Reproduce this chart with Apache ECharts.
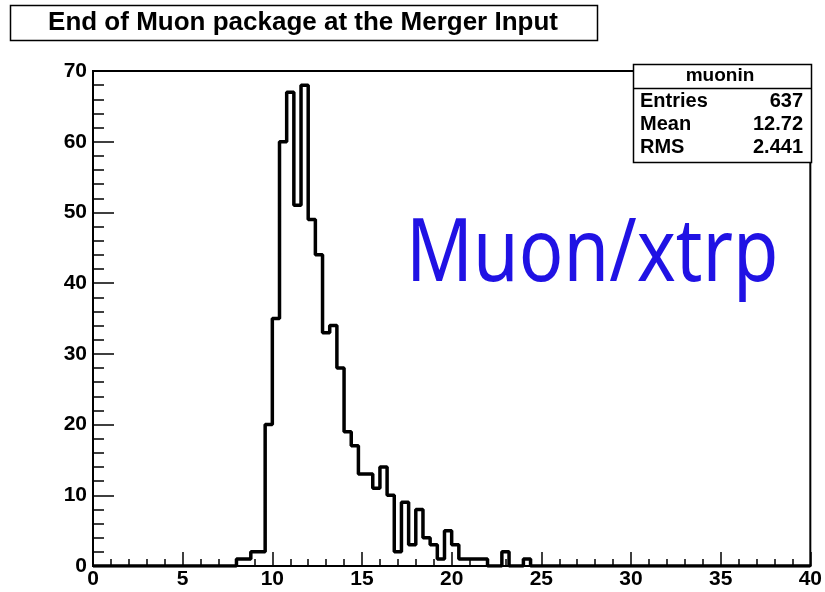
<!DOCTYPE html>
<html lang="en">
  <head>
    <meta charset="UTF-8" />
    <title>End of Muon package at the Merger Input</title>
    <script src="https://cdn.jsdelivr.net/npm/echarts@6/dist/echarts.min.js"></script>
    <style>
      html, body { margin: 0; padding: 0; background: #fff; }
      #main { width: 825px; height: 592px; }
    </style>
  </head>
  <body>
    <div id="main"></div>

    <script>
      // histogram binning (100 bins from 0 to 40)
      const binLow = 0;
      const binWidth = 0.4;
      // counts per bin
      const counts = [
        0, 0, 0, 0, 0, 0, 0, 0, 0, 0,
        0, 0, 0, 0, 0, 0, 0, 0, 0, 0,
        1, 1, 2, 2, 20, 35, 60, 67, 51, 68,
        49, 44, 33, 34, 28, 19, 17, 13, 13, 11,
        14, 10, 2, 9, 3, 8, 4, 3, 1, 5,
        3, 1, 1, 1, 1, 0, 0, 2, 0, 0,
        1, 0, 0, 0, 0, 0, 0, 0, 0, 0,
        0, 0, 0, 0, 0, 0, 0, 0, 0, 0,
        0, 0, 0, 0, 0, 0, 0, 0, 0, 0,
        0, 0, 0, 0, 0, 0, 0, 0, 0, 0,
      ];

      const histName = 'muonin';
      const statLabels = ['Entries', 'Mean', 'RMS'];
      const statValues = ['637', '12.72', '2.441'];
      const title = 'End of Muon package at the Merger Input';
      const note = 'Muon/xtrp';

      // step outline: one point per bin low edge, plus the last upper edge
      const stepData = counts.map((c, i) => [binLow + i * binWidth, c]);
      stepData.push([binLow + counts.length * binWidth, counts[counts.length - 1]]);

      const font = 'Liberation Sans, Arial, Helvetica, sans-serif';

      const statRows = statLabels.flatMap((lab, i) => [
        {
          type: 'text',
          z: 20,
          x: 640,
          y: 101 + i * 23,
          style: { text: lab, font: 'bold 20px ' + font, fill: '#000', verticalAlign: 'middle' },
        },
        {
          type: 'text',
          z: 20,
          x: 803,
          y: 101 + i * 23,
          style: {
            text: statValues[i],
            font: 'bold 20px ' + font,
            fill: '#000',
            align: 'right',
            verticalAlign: 'middle',
          },
        },
      ]);

      const option = {
        backgroundColor: '#fff',
        animation: false,
        grid: {
          left: 93,
          right: 13,
          top: 71,
          bottom: 26,
          show: true,
          borderColor: '#000',
          borderWidth: 2,
        },
        xAxis: {
          type: 'value',
          min: 0,
          max: 40,
          interval: 5,
          axisLine: { show: true, onZero: false, lineStyle: { color: '#000', width: 2 } },
          axisTick: { show: true, inside: true, length: 14, lineStyle: { color: '#000', width: 1.5 } },
          minorTick: { show: true, splitNumber: 5, length: 7, lineStyle: { color: '#000', width: 1.5 } },
          splitLine: { show: false },
          axisLabel: {
            color: '#000',
            fontFamily: font,
            fontWeight: 'bold',
            fontSize: 21,
            margin: 3,
          },
        },
        yAxis: {
          type: 'value',
          min: 0,
          max: 70,
          interval: 10,
          axisLine: { show: true, lineStyle: { color: '#000', width: 2 } },
          axisTick: { show: true, inside: true, length: 21, lineStyle: { color: '#000', width: 1.5 } },
          minorTick: { show: true, splitNumber: 5, length: 11, lineStyle: { color: '#000', width: 1.5 } },
          splitLine: { show: false },
          axisLabel: {
            color: '#000',
            fontFamily: font,
            fontWeight: 'bold',
            fontSize: 21,
            margin: 6,
          },
        },
        series: [
          {
            name: histName,
            type: 'line',
            step: 'end',
            data: stepData,
            showSymbol: false,
            lineStyle: { color: '#000', width: 3.5 },
            z: 5,
          },
        ],
        graphic: [
          {
            type: 'rect',
            shape: { x: 10.5, y: 5.5, width: 587, height: 35 },
            style: { fill: '#fff', stroke: '#000', lineWidth: 1.5 },
          },
          {
            type: 'text',
            x: 303,
            y: 23,
            style: {
              text: title,
              font: 'bold 26px ' + font,
              fill: '#000',
              align: 'center',
              verticalAlign: 'middle',
            },
          },
          {
            type: 'rect',
            z: 15,
            shape: { x: 633.5, y: 64.5, width: 178, height: 98 },
            style: { fill: '#fff', stroke: '#000', lineWidth: 1.5 },
          },
          {
            type: 'line',
            z: 16,
            shape: { x1: 633.5, y1: 88.5, x2: 811.5, y2: 88.5 },
            style: { stroke: '#000', lineWidth: 1.5 },
          },
          {
            type: 'text',
            z: 20,
            x: 720,
            y: 76,
            style: {
              text: histName,
              font: 'bold 19px ' + font,
              fill: '#000',
              align: 'center',
              verticalAlign: 'middle',
            },
          },
          ...statRows,
          {
            type: 'text',
            z: 20,
            x: 406,
            y: 213,
            scaleX: 0.85,
            style: {
              text: note,
              font: '87px "Noto Sans", sans-serif',
              fill: '#2012e4',
              verticalAlign: 'top',
            },
          },
        ],
      };

      var myChart = echarts.init(document.getElementById('main'));
      myChart.setOption(option);
    </script>
  </body>
</html>
